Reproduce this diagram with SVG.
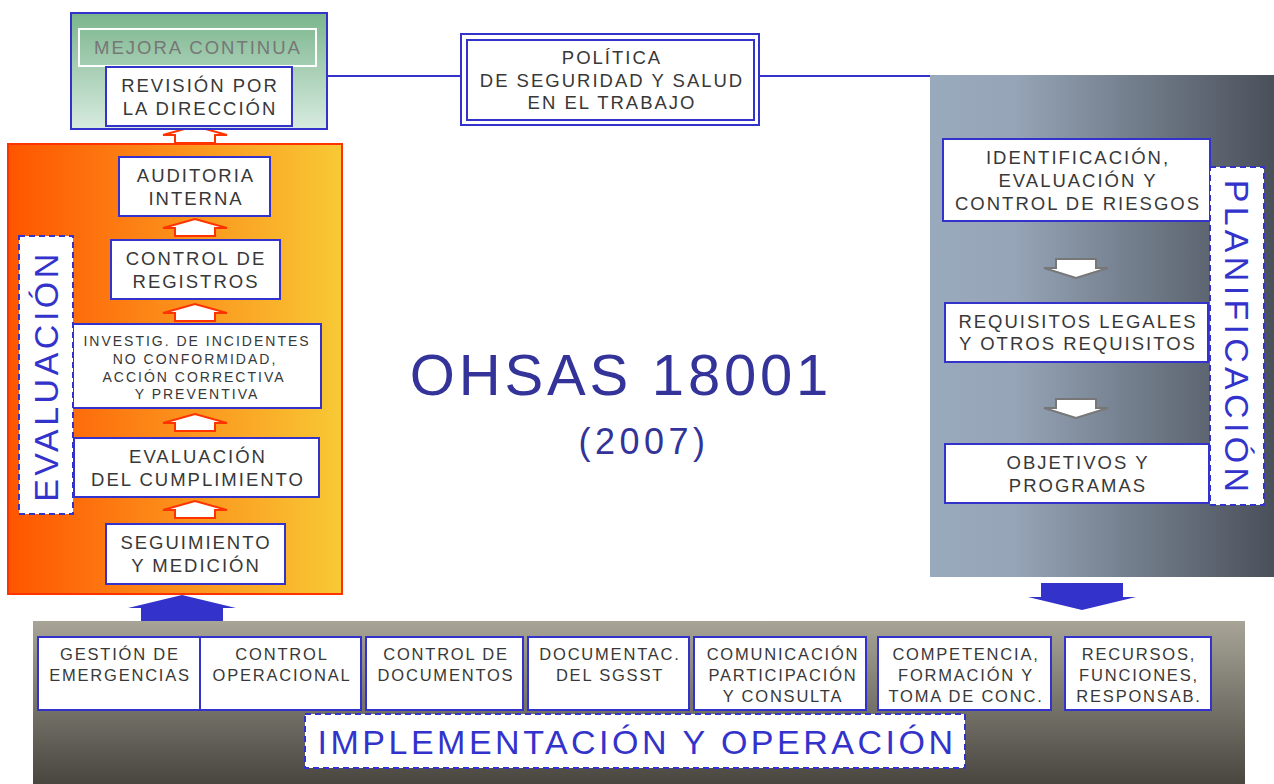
<svg xmlns="http://www.w3.org/2000/svg" width="1274" height="784" viewBox="0 0 1274 784">
<defs>
<linearGradient id="gGreen" x1="0" y1="0" x2="0" y2="1"><stop offset="0" stop-color="#7ab58c"/><stop offset="1" stop-color="#d8ebe0"/></linearGradient>
<linearGradient id="gOrange" x1="0" y1="0" x2="1" y2="0"><stop offset="0" stop-color="#ff5500"/><stop offset="1" stop-color="#f8c935"/></linearGradient>
<linearGradient id="gSlate" x1="0" y1="0" x2="1" y2="0"><stop offset="0" stop-color="#9aaabd"/><stop offset="0.25" stop-color="#95a4b6"/><stop offset="1" stop-color="#4a505a"/></linearGradient>
<linearGradient id="gBottom" x1="0" y1="0" x2="0" y2="1"><stop offset="0" stop-color="#a8a597"/><stop offset="0.45" stop-color="#7c7a70"/><stop offset="1" stop-color="#48463f"/></linearGradient>
<path id="upArrow" d="M-32,9 L0,0 L32,9 L20,9 L20,17 L-20,17 L-20,9 Z"/>
<path id="downArrow" d="M-32,9 L-20,9 L-20,0 L20,0 L20,9 L32,9 L0,19 Z"/>
</defs>
<style>
.box{fill:#fff;stroke:#3333cc;stroke-width:2}
.t{font-family:"Liberation Sans",Arial,sans-serif;fill:#383838;text-anchor:middle}
.t17{font-size:18.5px;letter-spacing:2px}
.t15{font-size:16.5px;letter-spacing:1.8px}
.t14{font-size:14px;letter-spacing:2px}
.dash{fill:#fff;stroke:#3333cc;stroke-width:2;stroke-dasharray:6,4}
.big{font-family:"Liberation Sans",Arial,sans-serif;fill:#3333cc;text-anchor:middle;font-size:34px;letter-spacing:3.5px}
.oarr{fill:#fff;stroke:#ff3300;stroke-width:2}
.garr{fill:#fff;stroke:#777;stroke-width:2}
.conn{stroke:#3333cc;stroke-width:2;fill:none}
</style>

<!-- backgrounds -->
<rect x="930" y="75" width="344" height="502" fill="url(#gSlate)"/>
<rect x="33" y="621" width="1212" height="163" fill="url(#gBottom)"/>
<rect x="8" y="144" width="334" height="450" fill="url(#gOrange)" stroke="#ff3300" stroke-width="2"/>

<g id="connectors">
<line class="conn" x1="327" y1="76" x2="461" y2="76"/>
<line class="conn" x1="759" y1="76" x2="930" y2="76"/>
<use href="#upArrow" class="oarr" transform="translate(195,126)"/>
<use href="#upArrow" class="oarr" transform="translate(195,219)"/>
<use href="#upArrow" class="oarr" transform="translate(195,304)"/>
<use href="#upArrow" class="oarr" transform="translate(195,414)"/>
<use href="#upArrow" class="oarr" transform="translate(195,501)"/>
<use href="#downArrow" class="garr" transform="translate(1076,259)"/>
<use href="#downArrow" class="garr" transform="translate(1076,399)"/>
<path d="M128,608 L182,595 L236,608 L223,608 L223,621 L141,621 L141,608 Z" fill="#3333cc"/>
<path d="M1041,583 L1123,583 L1123,597 L1136,597 L1082,610 L1028,597 L1041,597 Z" fill="#3333cc"/>
</g>

<g id="mejora">
<rect x="71" y="13" width="256" height="116" fill="url(#gGreen)" stroke="#3333cc" stroke-width="2"/>
<rect x="79" y="29" width="237" height="37" fill="none" stroke="#fff" stroke-width="2"/>
<text class="t t17" x="198" y="54" style="fill:#777">MEJORA CONTINUA</text>
</g>
<g id="revision">
<rect class="box" x="106" y="67" width="186" height="59"/>
<text class="t t17" x="200" y="92">REVISIÓN POR</text>
<text class="t t17" x="200" y="115">LA DIRECCIÓN</text>
</g>

<g id="politica">
<rect x="461" y="34" width="298" height="91" fill="#fff" stroke="#3333cc" stroke-width="2"/>
<rect x="467" y="40" width="287" height="80" fill="#fff" stroke="#3333cc" stroke-width="2"/>
<text class="t t17" x="612" y="64">POLÍTICA</text>
<text class="t t17" x="612" y="87">DE SEGURIDAD Y SALUD</text>
<text class="t t17" x="612" y="109">EN EL TRABAJO</text>
</g>

<g id="auditoria">
<rect class="box" x="119" y="157" width="151" height="59"/>
<text class="t t17" x="196" y="182">AUDITORIA</text>
<text class="t t17" x="196" y="205">INTERNA</text>
</g>
<g id="registros">
<rect class="box" x="111" y="240" width="169" height="59"/>
<text class="t t17" x="196" y="265">CONTROL DE</text>
<text class="t t17" x="196" y="288">REGISTROS</text>
</g>
<g id="investig">
<rect class="box" x="73" y="324" width="248" height="84"/>
<text class="t t14" x="197" y="346">INVESTIG. DE INCIDENTES</text>
<text class="t t14" x="195" y="364">NO CONFORMIDAD,</text>
<text class="t t14" x="194" y="382">ACCIÓN CORRECTIVA</text>
<text class="t t14" x="197" y="399">Y PREVENTIVA</text>
</g>
<g id="cumplimiento">
<rect class="box" x="74" y="438" width="245" height="59"/>
<text class="t t17" x="198" y="463">EVALUACIÓN</text>
<text class="t t17" x="198" y="486">DEL CUMPLIMIENTO</text>
</g>
<g id="seguimiento">
<rect class="box" x="106" y="524" width="179" height="60"/>
<text class="t t17" x="196" y="549">SEGUIMIENTO</text>
<text class="t t17" x="196" y="572">Y MEDICIÓN</text>
</g>
<g id="evaluacion">
<rect class="dash" x="19" y="236" width="54" height="278"/>
<text class="big" transform="translate(58,376) rotate(-90)">EVALUACIÓN</text>
</g>

<g id="identificacion">
<rect class="box" x="943" y="139" width="267" height="82"/>
<text class="t t17" x="1078" y="164">IDENTIFICACIÓN,</text>
<text class="t t17" x="1078" y="187">EVALUACIÓN Y</text>
<text class="t t17" x="1078" y="210">CONTROL DE RIESGOS</text>
</g>
<g id="requisitos">
<rect class="box" x="945" y="303" width="263" height="59"/>
<text class="t t17" x="1078" y="328">REQUISITOS LEGALES</text>
<text class="t t17" x="1078" y="350">Y OTROS REQUISITOS</text>
</g>
<g id="objetivos">
<rect class="box" x="945" y="444" width="264" height="59"/>
<text class="t t17" x="1078" y="469">OBJETIVOS Y</text>
<text class="t t17" x="1078" y="492">PROGRAMAS</text>
</g>
<g id="planificacion">
<rect class="dash" x="1210" y="167" width="54" height="338"/>
<text class="big" transform="translate(1225,338) rotate(90)" style="letter-spacing:4.3px">PLANIFICACIÓN</text>
</g>

<g id="titulo">
<text x="621" y="395" font-family="'Liberation Sans',Arial,sans-serif" font-size="58" fill="#333399" text-anchor="middle" letter-spacing="3.8">OHSAS 18001</text>
<text x="644" y="454" font-family="'Liberation Sans',Arial,sans-serif" font-size="36" fill="#333399" text-anchor="middle" letter-spacing="4.5">(2007)</text>
</g>

<g id="emergencias">
<rect class="box" x="38" y="637" width="162" height="73"/>
<text class="t t15" x="120" y="660">GESTIÓN DE</text>
<text class="t t15" x="120" y="681">EMERGENCIAS</text>
</g>
<g id="operacional">
<rect class="box" x="200" y="637" width="161" height="73"/>
<text class="t t15" x="282" y="660">CONTROL</text>
<text class="t t15" x="282" y="681">OPERACIONAL</text>
</g>
<g id="documentos">
<rect class="box" x="366" y="637" width="157" height="73"/>
<text class="t t15" x="446" y="660">CONTROL DE</text>
<text class="t t15" x="446" y="681">DOCUMENTOS</text>
</g>
<g id="documentac">
<rect class="box" x="528" y="637" width="161" height="73"/>
<text class="t t15" x="610" y="660">DOCUMENTAC.</text>
<text class="t t15" x="610" y="681">DEL SGSST</text>
</g>
<g id="comunicacion">
<rect class="box" x="694" y="637" width="172" height="73"/>
<text class="t t15" x="783" y="660">COMUNICACIÓN</text>
<text class="t t15" x="783" y="681">PARTICIPACIÓN</text>
<text class="t t15" x="783" y="702">Y CONSULTA</text>
</g>
<g id="competencia">
<rect class="box" x="878" y="637" width="173" height="73"/>
<text class="t t15" x="966" y="660">COMPETENCIA,</text>
<text class="t t15" x="966" y="681">FORMACIÓN Y</text>
<text class="t t15" x="966" y="702">TOMA DE CONC.</text>
</g>
<g id="recursos">
<rect class="box" x="1065" y="637" width="146" height="73"/>
<text class="t t15" x="1139" y="660">RECURSOS,</text>
<text class="t t15" x="1139" y="681">FUNCIONES,</text>
<text class="t t15" x="1139" y="702">RESPONSAB.</text>
</g>
<g id="implementacion">
<rect class="dash" x="305" y="714" width="660" height="54"/>
<text class="big" x="637" y="754">IMPLEMENTACIÓN Y OPERACIÓN</text>
</g>
</svg>
